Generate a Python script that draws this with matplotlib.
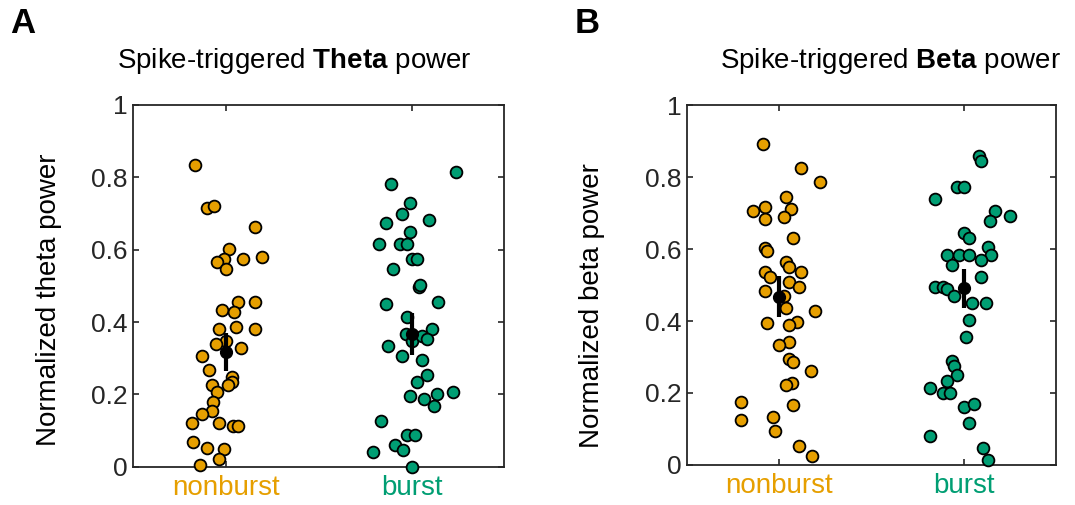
import numpy as np
import matplotlib
matplotlib.use("Agg")
import matplotlib.pyplot as plt

plt.rcParams['font.family'] = ['Liberation Sans', 'DejaVu Sans']
plt.rcParams['mathtext.fontset'] = 'custom'
plt.rcParams['mathtext.rm'] = 'Liberation Sans'
plt.rcParams['mathtext.bf'] = 'Liberation Sans:bold'

groups = ["nonburst", "burst"]
group_colors = ["#E69F00", "#009E73"]

# --- Panel A: theta power (jitter offsets) ---
theta_nonburst = [0.834, 0.714, 0.722, 0.662, 0.601, 0.581, 0.574, 0.573, 0.567, 0.547,
                  0.454, 0.454, 0.433, 0.427, 0.387, 0.380, 0.380, 0.348, 0.339, 0.327,
                  0.307, 0.267, 0.249, 0.234, 0.226, 0.227, 0.206, 0.180, 0.154, 0.147,
                  0.120, 0.120, 0.113, 0.113, 0.067, 0.053, 0.048, 0.020, 0.006]
theta_nonburst_jit = [-0.167, -0.104, -0.063, 0.158, 0.014, 0.196, 0.092, -0.009, -0.050, 0.0,
                      0.063, 0.156, -0.023, 0.043, 0.052, -0.038, 0.154, 0.0, -0.052, 0.081,
                      -0.129, -0.092, 0.031, 0.031, 0.013, -0.074, -0.050, -0.072, -0.077, -0.129,
                      -0.181, -0.036, 0.039, 0.066, -0.179, -0.104, -0.011, -0.038, -0.140]
theta_burst = [0.815, 0.781, 0.728, 0.700, 0.675, 0.682, 0.648, 0.615, 0.616, 0.615,
               0.575, 0.574, 0.547, 0.498, 0.502, 0.449, 0.455, 0.414, 0.367, 0.348,
               0.361, 0.382, 0.354, 0.334, 0.307, 0.295, 0.253, 0.233, 0.206, 0.201,
               0.195, 0.186, 0.168, 0.127, 0.088, 0.088, 0.061, 0.046, 0.041, 0.000]
theta_burst_jit = [0.237, -0.113, -0.009, -0.050, -0.140, 0.093, -0.009, -0.178, -0.063, -0.022,
                   0.004, 0.031, -0.102, 0.041, 0.045, -0.140, 0.145, -0.022, -0.032, 0.004,
                   0.057, 0.108, 0.081, -0.126, -0.050, 0.056, 0.081, 0.031, 0.226, 0.135,
                   -0.009, 0.068, 0.122, -0.167, -0.022, 0.018, -0.088, -0.048, -0.206, 0.0]
theta_mean = [0.318, 0.367]
theta_sem = [0.053, 0.059]

# --- Panel B: beta power ---
beta_nonburst = [0.892, 0.825, 0.785, 0.744, 0.718, 0.711, 0.705, 0.690, 0.684, 0.631,
                 0.604, 0.595, 0.563, 0.551, 0.537, 0.536, 0.523, 0.509, 0.495, 0.483,
                 0.470, 0.435, 0.429, 0.395, 0.396, 0.388, 0.341, 0.333, 0.295, 0.287,
                 0.261, 0.228, 0.221, 0.168, 0.174, 0.126, 0.133, 0.094, 0.053, 0.026]
beta_nonburst_jit = [-0.088, 0.120, 0.223, 0.036, -0.077, 0.066, -0.142, 0.027, -0.077, 0.077,
                     -0.077, -0.066, 0.036, 0.052, -0.077, 0.117, -0.050, 0.052, 0.106, -0.077,
                     0.027, 0.039, 0.197, -0.066, 0.095, 0.052, 0.052, 0.0, 0.052, 0.077,
                     0.171, 0.070, 0.039, 0.077, -0.205, -0.205, -0.036, -0.025, 0.106, 0.180]
beta_burst = [0.859, 0.844, 0.771, 0.771, 0.738, 0.705, 0.692, 0.677, 0.644, 0.631,
              0.605, 0.584, 0.584, 0.584, 0.584, 0.569, 0.556, 0.523, 0.495, 0.495,
              0.488, 0.469, 0.449, 0.449, 0.403, 0.356, 0.290, 0.275, 0.249, 0.234,
              0.215, 0.201, 0.201, 0.160, 0.169, 0.116, 0.081, 0.046, 0.014]
beta_burst_jit = [0.083, 0.095, -0.038, 0.005, -0.153, 0.172, 0.251, 0.145, 0.0, 0.032,
                  0.135, 0.149, -0.090, -0.027, 0.032, 0.095, -0.061, 0.095, -0.153, -0.111,
                  -0.090, -0.050, 0.045, 0.122, 0.029, 0.013, -0.061, -0.050, -0.038, -0.090,
                  -0.180, -0.111, -0.072, 0.0, 0.056, 0.029, -0.180, 0.106, 0.135]
beta_mean = [0.468, 0.491]
beta_sem = [0.056, 0.054]

panels = [
    dict(letter="A", band="Theta", ylabel="Normalized theta power",
         vals=[theta_nonburst, theta_burst], jit=[theta_nonburst_jit, theta_burst_jit],
         mean=theta_mean, sem=theta_sem),
    dict(letter="B", band="Beta", ylabel="Normalized beta power",
         vals=[beta_nonburst, beta_burst], jit=[beta_nonburst_jit, beta_burst_jit],
         mean=beta_mean, sem=beta_sem),
]

W, H = 1075, 505
fig = plt.figure(figsize=(W / 100, H / 100), dpi=100)

# pixel layout: (left, top, right, bottom)
boxes = [(133.3, 105, 504.3, 466.7), (687, 105, 1055.7, 465)]
title_x = [294, 890]
letter_x = [10, 575]
label_xy = [(-0.192, 0.462), (-0.222, 0.444)]
axcol = "#262626"

for i, p in enumerate(panels):
    l, t, r, b = boxes[i]
    ax = fig.add_axes([l / W, 1 - b / H, (r - l) / W, (b - t) / H])

    for k in range(2):
        xs = np.array(p["jit"][k]) + (k + 1)
        ax.scatter(xs, p["vals"][k], s=72, color=group_colors[k],
                   edgecolor="black", linewidth=1.3, zorder=3, clip_on=False)
        m, e = p["mean"][k], p["sem"][k]
        ax.plot([k + 1, k + 1], [m - e, m + e], color="black", lw=3, zorder=4,
                solid_capstyle="butt")
        ax.plot(k + 1, m, "o", color="black", ms=8.5, zorder=5)

    ax.set_xlim(0.5, 2.5)
    ax.set_ylim(0, 1)
    ax.set_xticks([1, 2])
    ax.set_yticks([0, 0.2, 0.4, 0.6, 0.8, 1])
    ax.set_yticklabels(["0", "0.2", "0.4", "0.6", "0.8", "1"])
    ax.tick_params(direction="in", top=True, right=True, length=4, width=1.2,
                   color=axcol, labelsize=19, labelcolor=axcol)
    ax.tick_params(axis="x", pad=6)
    ax.tick_params(axis="y", pad=4)
    ax.set_xticklabels(groups, fontsize=20)
    for lab, c in zip(ax.get_xticklabels(), group_colors):
        lab.set_color(c)
    for sp in ax.spines.values():
        sp.set_color(axcol)
        sp.set_linewidth(1.3)

    ax.set_ylabel(p["ylabel"], fontsize=20, color="black")
    ax.yaxis.set_label_coords(*label_xy[i])

    fig.text(title_x[i] / W, 1 - 68 / H,
             "Spike-triggered $\\mathbf{%s}$ power" % p["band"],
             ha="center", va="baseline", fontsize=20)
    fig.text(letter_x[i] / W, 1 - 33 / H, p["letter"], ha="left", va="baseline",
             fontsize=25, fontweight="bold")

fig.savefig("out.png", dpi=100)
